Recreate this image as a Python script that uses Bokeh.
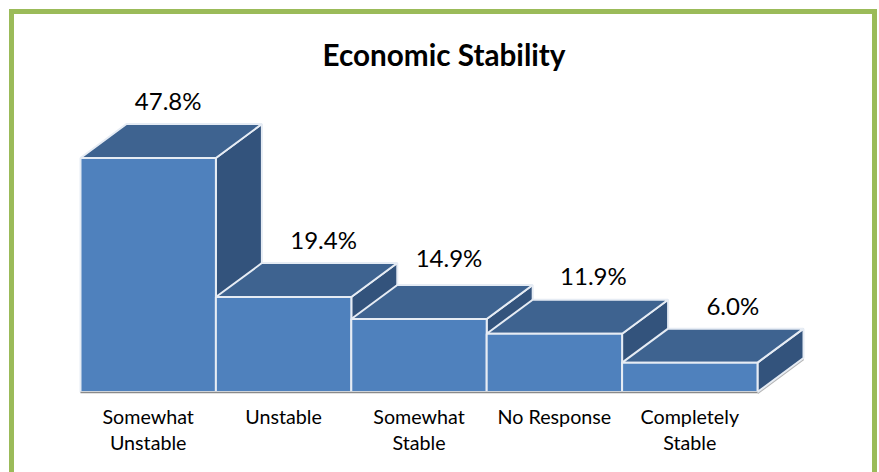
from bokeh.plotting import figure
from bokeh.models import ColumnDataSource, FixedTicker, InlineStyleSheet
from bokeh.core.properties import value
from bokeh.embed import file_html
from bokeh.resources import INLINE

TITLE = "Economic Stability"
categories = ["Somewhat\nUnstable", "Unstable", "Somewhat\nStable", "No Response", "Completely\nStable"]
values = [47.8, 19.4, 14.9, 11.9, 6.0]
labels = ["47.8%", "19.4%", "14.9%", "11.9%", "6.0%"]

# page geometry (Bokeh's page template puts the figure at the window's corner)
W, H = 879, 472
FRAME_LEFT = 8          # px where the plot frame begins (centres the title as in the reference)
FRAME_TOP = 76
X0, UX = 80.0, 135.4    # px of x=0, px per category
Y0, UY = 391.5, 4.895   # px of y=0, px per percent
DX, DY = 46 / UX, 34 / UY   # 3-D depth in data units

x_range = ((FRAME_LEFT - X0) / UX, (W - X0) / UX)
y_range = ((Y0 - H) / UY, (Y0 - FRAME_TOP) / UY)

p = figure(width=W, height=H, x_range=x_range, y_range=y_range,
           output_backend="svg", toolbar_location=None,
           min_border_left=FRAME_LEFT, min_border_right=0, min_border_bottom=0, min_border_top=FRAME_TOP,
           title=TITLE)
p.background_fill_color = "white"
p.border_fill_color = "white"
p.outline_line_color = None
p.grid.visible = False
p.yaxis.visible = False

p.title.align = "center"
p.title.text_font = "Lato"
p.title.text_font_size = "29.7px"
p.title.text_font_style = "bold"
p.title.text_color = "black"
p.title.offset = 0
p.title.standoff = 10

# Axis inside the frame, on the baseline
ax = p.xaxis[0]
ax.fixed_location = 0
ax.bounds = (0, 5)
ax.ticker = FixedTicker(ticks=[i + 0.5 for i in range(len(categories))])
ax.major_label_overrides = {i + 0.5: c for i, c in enumerate(categories)}
ax.major_tick_line_color = None
ax.minor_tick_line_color = None
ax.axis_line_color = "#8a8a8a"
ax.axis_line_width = 1.5
ax.major_label_text_font = "Lato"
ax.major_label_text_font_size = "19.7px"
ax.major_label_text_color = "black"
ax.major_label_text_line_height = 1.15
ax.major_label_standoff = 7
ax.major_label_orientation = "horizontal"

# soft shadow under the last side face
n = len(values)
p.line([n, n + DX], [-0.25, DY - 0.25], line_color="#b5b5b5", line_width=2)

EDGE = "#e6ecf4"
# Bars, painted left to right
for i, v in enumerate(values):
    p.patch([i + 1, i + 1 + DX, i + 1 + DX, i + 1], [0, DY, v + DY, v],
            fill_color="#33537c", line_color=EDGE, line_width=2)
    p.patch([i, i + DX, i + 1 + DX, i + 1], [v, v + DY, v + DY, v],
            fill_color="#3e6390", line_color=EDGE, line_width=2)
    p.patch([i, i + 1, i + 1, i], [0, 0, v, v],
            fill_color="#4f81bd", line_color=EDGE, line_width=2)

# Data labels
src = ColumnDataSource(dict(
    x=[i + 0.5 for i in range(n)],
    y=[v + DY for v in values],
    text=labels,
    xo=[20, 40, 30, 39, 43],
    yo=[-24, -24, -28, -24, -23],
))
p.text("x", "y", text="text", source=src, x_offset="xo", y_offset="yo",
       text_font=value("Lato"), text_font_size="24px", text_color="black",
       text_align="center", text_baseline="middle")

# Green frame of the picture
p.stylesheets = [InlineStyleSheet(css="""
:host::after {
  content: ""; position: absolute; pointer-events: none; z-index: 10;
  left: 9px; top: 9px; width: 858px; height: 463px;
  border: 5.5px solid #9bbb59; border-bottom: none;
}
""")]

open("out.html", "w").write(file_html(p, INLINE))
